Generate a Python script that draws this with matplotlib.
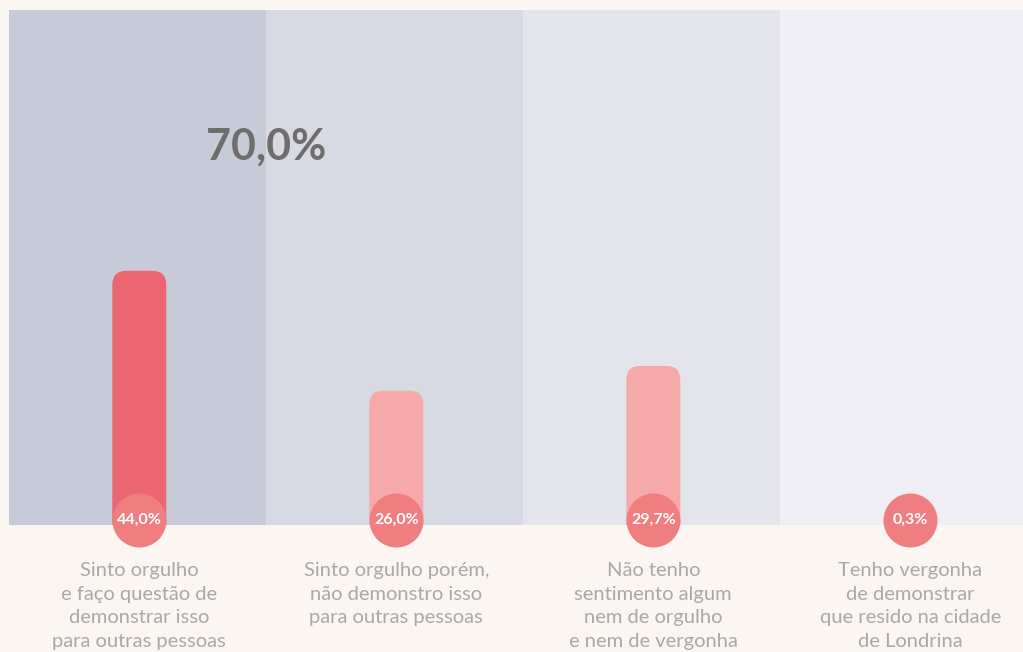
import numpy as np
import matplotlib.pyplot as plt
from matplotlib.patches import FancyBboxPatch
from matplotlib.transforms import blended_transform_factory

# answers and their shares (%)
categories = [
    "Sinto orgulho\ne faço questão de\ndemonstrar isso\npara outras pessoas",
    "Sinto orgulho porém,\nnão demonstro isso\npara outras pessoas",
    "Não tenho\nsentimento algum\nnem de orgulho\ne nem de vergonha",
    "Tenho vergonha\nde demonstrar\nque resido na cidade\nde Londrina",
]
values = [44.0, 26.0, 29.7, 0.3]
value_labels = ["44,0%", "26,0%", "29,7%", "0,3%"]
total_label = "70,0%"

panel_colors = ["#C7CBD8", "#D7DAE3", "#E3E4EC", "#EEEEF4"]
bar_colors = ["#EC6671", "#F5A9A8", "#F5A9A8", "#F5A9A8"]
dot_color = "#F07E81"
bg = "#FBF6F1"

plt.rcParams['font.family'] = ['Lato', 'DejaVu Sans']

W, H = 1023, 652
fig = plt.figure(figsize=(W / 100, H / 100), dpi=100, facecolor=bg)
ax = fig.add_axes([9 / W, (H - 525) / H, 1014 / W, 515 / H])
# zero sits a little below the panel edge; the dots hide the bar feet
y0, y1 = 5.8, 83.2
ax.set_xlim(0, 1014 / 257)
ax.set_ylim(y0, y1)
ax.axis('off')

x = np.arange(len(values)) + 0.507
bar_w = 0.21

for i, c in enumerate(panel_colors):
    ax.axvspan(i, i + 1, color=c, lw=0, zorder=0)

# rounded bars, clipped at the lower edge of the axes
px_x = 257.0
px_y = 515 / (y1 - y0)
for xi, v, c in zip(x, values, bar_colors):
    if v < y0 + 1:
        continue
    box = FancyBboxPatch((xi - bar_w / 2, 0), bar_w, v,
                         boxstyle="round,pad=0,rounding_size=%f" % (14 / px_x),
                         mutation_aspect=px_x / px_y,
                         fc=c, ec='none', zorder=2)
    ax.add_patch(box)

# value dots sitting on the lower edge
tr = blended_transform_factory(ax.transData, ax.transAxes)
dot_y = 5 / 515
ax.scatter(x, [dot_y] * len(x), s=(54 * 0.72) ** 2, color=dot_color,
           transform=tr, clip_on=False, zorder=3, linewidths=0)
for xi, lab in zip(x, value_labels):
    ax.text(xi, dot_y, lab, transform=tr, ha='center', va='center',
            color='white', fontsize=11.5, fontweight='bold', zorder=4)

# category names under the panels
for xi, cat in zip(x, categories):
    ax.text(xi, -37 / 515, cat, transform=tr, ha='center', va='top',
            color='#A9A9A9', fontsize=14.5, linespacing=1.48)

ax.text(1.0, (525 - 147) / 515, total_label, transform=tr, ha='center',
        va='center', color='#6F6E6C', fontsize=31, fontweight='bold', zorder=5)

fig.savefig('out.png', dpi=100, facecolor=bg)
